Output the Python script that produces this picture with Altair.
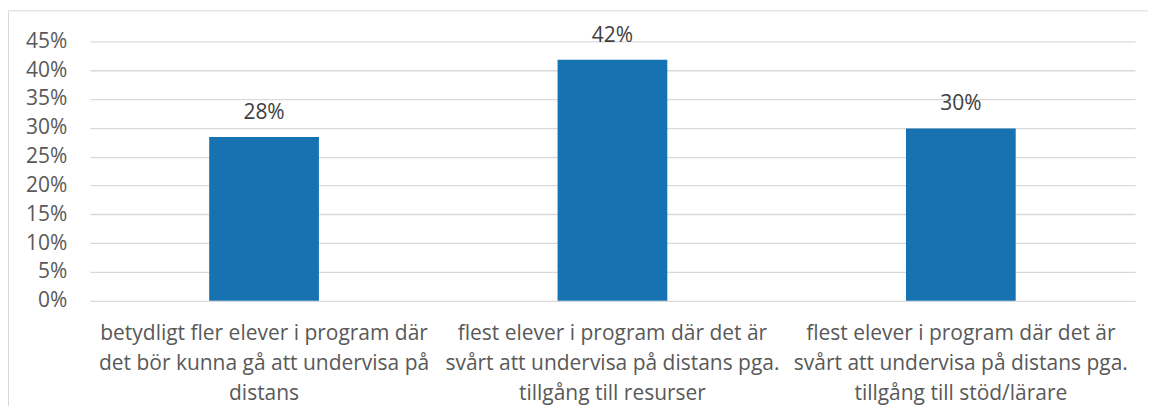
import altair as alt
import pandas as pd

categories = [
    "betydligt fler elever i program där\ndet bör kunna gå att undervisa på\ndistans",
    "flest elever i program där det är\nsvårt att undervisa på distans pga.\ntillgång till resurser",
    "flest elever i program där det är\nsvårt att undervisa på distans pga.\ntillgång till stöd/lärare",
]
shares = [0.284, 0.418, 0.299]
y_ticks = [0, 0.05, 0.10, 0.15, 0.20, 0.25, 0.30, 0.35, 0.40, 0.45]

df = pd.DataFrame({"category": categories, "share": shares})

W, H = 1047, 260
PAD_L, PAD_T = 82, 33
TOTAL_W, TOTAL_H = 1142, 398
FONT = "Open Sans"
FS = 21
AXIS_COLOR = "#595959"
GRID = "#d9d9d9"
BAR = "#1772B1"

x = alt.X(
    "category:N",
    sort=categories,
    title=None,
    scale=alt.Scale(paddingInner=0.685, paddingOuter=0.3425),
    axis=alt.Axis(
        labelAngle=0,
        labelExpr="split(datum.label, '\\n')",
        labelFont=FONT,
        labelFontSize=FS,
        labelColor=AXIS_COLOR,
        labelPadding=22,
        labelLineHeight=30,
        labelLimit=400,
        labelOverlap=False,
        domain=False,
        ticks=False,
    ),
)
y = alt.Y(
    "share:Q",
    title=None,
    scale=alt.Scale(domain=[0, 0.45], nice=False, zero=True),
    axis=alt.Axis(
        values=y_ticks,
        tickCount=10,
        format=".0%",
        labelFont=FONT,
        labelFontSize=FS,
        labelColor=AXIS_COLOR,
        labelPadding=23,
        labelOverlap=False,
        labelBound=False,
        labelFlush=False,
        domain=False,
        ticks=False,
        grid=True,
        gridColor=GRID,
        gridWidth=1.3,
    ),
)

base = alt.Chart(df)
bars = base.mark_bar(color=BAR).encode(x=x, y=y)
labels = base.mark_text(
    dy=-24, fontSize=FS, font=FONT, color="#404040", baseline="middle"
).encode(x=x, y=y, text=alt.Text("share:Q", format=".0%"))

frame = alt.Chart(pd.DataFrame({"f": [0]})).mark_rect(
    fillOpacity=0, stroke=GRID, strokeWidth=1
).encode(
    x=alt.value(-PAD_L + 0.5),
    x2=alt.value(3000),
    y=alt.value(-PAD_T + 2.5),
    y2=alt.value(3000),
)

chart = (
    alt.layer(frame, bars, labels)
    .properties(
        width=W,
        height=H,
        autosize=alt.AutoSizeParams(type="none"),
        padding={"left": PAD_L, "top": PAD_T, "right": TOTAL_W - PAD_L - W, "bottom": TOTAL_H - PAD_T - H},
        background="white",
    )
    .configure_view(stroke=None)
)

chart.save("out.html", embed_options={"renderer": "svg", "actions": False})
